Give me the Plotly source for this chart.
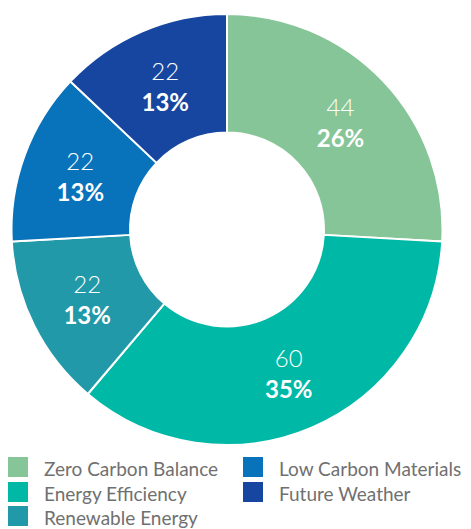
import plotly.graph_objects as go

categories = ["Zero Carbon Balance", "Energy Efficiency", "Renewable Energy",
              "Low Carbon Materials", "Future Weather"]
values = [44, 60, 22, 22, 22]
percent_labels = ["26%", "35%", "13%", "13%", "13%"]
colors = ["#86C597", "#00B8A6", "#2199A8", "#0873BB", "#1646A0"]

# page body has an 8px default margin, so the figure is laid out 8px smaller
W, H = 463, 521

fig = go.Figure()
cx, cy, r = 219, 221.5, 215.5
fig.add_trace(go.Pie(
    labels=categories,
    values=values,
    customdata=percent_labels,
    sort=False,
    direction="clockwise",
    rotation=0,
    hole=0.45,
    marker=dict(colors=colors, line=dict(color="white", width=2)),
    texttemplate="%{value}<br><b>%{customdata}</b>",
    textposition="inside",
    insidetextorientation="horizontal",
    textfont=dict(family="Lato", size=24, color="white", weight=300),
    hoverinfo="label+value",
    showlegend=False,
    domain=dict(x=[(cx - r) / W, (cx + r) / W],
                y=[1 - (cy + r) / H, 1 - (cy - r) / H]),
))

# custom two-column legend (column-major order as in the reference)
shapes = []
annotations = []
col_x = [0, 235]
row_y = [459, 484, 508]
sq = 20
for i, (name, col) in enumerate(zip(categories, colors)):
    c, rr = divmod(i, 3)
    x0 = col_x[c]
    yc = row_y[rr]
    shapes.append(dict(type="rect", xref="paper", yref="paper",
                       x0=x0 / W, x1=(x0 + sq) / W,
                       y0=1 - (yc + sq / 2) / H, y1=1 - (yc - sq / 2) / H,
                       fillcolor=col, line=dict(width=0)))
    annotations.append(dict(xref="paper", yref="paper",
                            x=(x0 + 34) / W, y=1 - (yc + 1.5) / H,
                            xanchor="left", yanchor="middle", showarrow=False,
                            text=name,
                            font=dict(family="Lato", size=19, color="#707070")))

fig.update_layout(
    width=W, height=H,
    margin=dict(l=0, r=0, t=0, b=0),
    paper_bgcolor="white",
    plot_bgcolor="white",
    shapes=shapes,
    annotations=annotations,
)

fig.write_html("out.html")
